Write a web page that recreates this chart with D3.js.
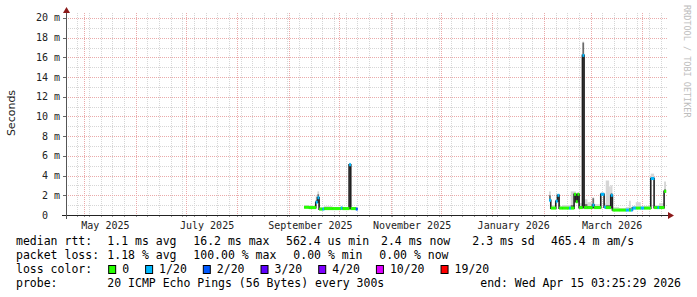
<!DOCTYPE html>
<html>
<head>
<meta charset="utf-8">
<script src="https://cdn.jsdelivr.net/npm/d3@7/dist/d3.min.js"></script>
<style>
  html, body { margin: 0; padding: 0; background: #fff; }
  svg { display: block; }
  text { font-family: "DejaVu Sans Mono", monospace; }
</style>
</head>
<body>
<div id="chart"></div>
<script>
// ---- data ----
const startTime = new Date(2025, 3, 20, 3, 25, 29);
const endTime = new Date(2026, 3, 15, 3, 25, 29);
const yMaxMs = 20.3;
const yTicksMs = [0, 2, 4, 6, 8, 10, 12, 14, 16, 18, 20];
const xLabelMonths = ['2025-05-01', '2025-07-01', '2025-09-01', '2025-11-01', '2026-01-01', '2026-03-01'];

// one entry per consolidated step (a null median starts a gap)
const sampleDates = [
  '2025-09-10', '2025-09-13', '2025-09-17', '2025-09-18', '2025-09-19', '2025-09-21', '2025-09-22',
  '2025-09-27', '2025-10-02', '2025-10-03', '2025-10-07', '2025-10-08', '2025-10-11', '2025-10-12',
  '2026-02-04', '2026-02-05', '2026-02-08', '2026-02-09', '2026-02-10', '2026-02-12', '2026-02-16',
  '2026-02-17', '2026-02-19', '2026-02-20', '2026-02-21', '2026-02-22', '2026-02-24', '2026-02-25',
  '2026-02-27', '2026-03-02', '2026-03-03', '2026-03-07', '2026-03-09', '2026-03-10', '2026-03-12',
  '2026-03-13', '2026-03-14', '2026-03-18', '2026-03-22', '2026-03-24', '2026-03-25', '2026-03-26',
  '2026-03-28', '2026-03-31', '2026-04-02', '2026-04-06', '2026-04-08', '2026-04-10', '2026-04-11',
  '2026-04-14'
];
const medianMs = [
  0.78, 0.75, 1.3, 1.75, 0.6, 0.6, 0.65,
  0.65, 0.7, 0.65, 5.1, 0.65, 0.6, null,
  1.5, 0.7, 1.4, 2.0, 0.7, 0.7, 0.7,
  0.7, 2.1, 1.35, 2.1, 0.75, 16.2, 0.75,
  0.75, 1.0, 0.75, 2.1, 0.8, 0.75, 0.75,
  2.0, 0.5, 0.5, 0.5, 0.5, 0.5, 0.7,
  0.7, 0.7, 0.7, 3.7, 0.75, 0.75, 0.75,
  2.4
];
const lossIndex = [
  0, 0, 1, 1, 0, 1, 0,
  0, 1, 0, 1, 0, 2, 0,
  1, 0, 1, 1, 0, 0, 1,
  0, 0, 0, 0, 0, 1, 0,
  0, 1, 0, 1, 1, 0, 0,
  1, 0, 0, 1, 0, 1, 1,
  0, 1, 0, 1, 0, 1, 0,
  0
];
const smokeDarkMs = [
  0.8, 0.8, 1.5, 2.1, 0.65, 0.7, 0.7,
  0.7, 0.8, 0.7, 5.2, 0.7, 0.7, null,
  2.0, 0.8, 1.5, 2.05, 0.8, 0.8, 0.8,
  1.0, 2.2, 1.5, 2.2, 0.9, 17.5, 1.1,
  0.9, 1.7, 0.9, 2.2, 0.9, 1.0, 1.0,
  2.2, 0.6, 0.6, 0.6, 0.7, 0.6, 0.8,
  0.8, 0.8, 0.8, 3.8, 0.85, 0.85, 0.9,
  2.6
];
const smokeTopMs = [
  1.0, 0.95, 2.0, 2.4, 0.8, 0.8, 0.9,
  0.8, 0.9, 0.8, 5.3, 0.8, 0.8, null,
  2.4, 1.0, 1.6, 2.1, 0.9, 1.0, 1.0,
  2.4, 2.4, 2.1, 2.3, 1.2, 17.6, 1.6,
  1.3, 1.8, 1.1, 2.3, 1.2, 3.5, 2.9,
  3.0, 0.8, 0.7, 0.8, 1.45, 0.8, 0.9,
  1.3, 0.9, 0.9, 4.2, 1.0, 1.0, 1.2,
  3.4
];

const lossColors = ['#26ff00', '#00b8ff', '#0059ff', '#5e00ff', '#7e00ff', '#dd00ff', '#ff0000'];
const lossLabels = ['0', '1/20', '2/20', '3/20', '4/20', '10/20', '19/20'];

const rttStats = ['1.1 ms avg', '16.2 ms max', '562.4 us min', '2.4 ms now', '2.3 ms sd', '465.4 m am/s'];
const lossStats = ['1.18 % avg', '100.00 % max', '0.00 % min', '0.00 % now'];
const probeText = '20 ICMP Echo Pings (56 Bytes) every 300s';
const endText = 'end: Wed Apr 15 03:25:29 2026';

// ---- layout ----
const width = 697;
const height = 297;
const plotLeft = 66, plotRight = 666, plotTop = 15, plotBottom = 215;
const rttCols = [107.3, 193.3, 286, 381, 472.3, 551];
const lossCols = [107.3, 193.3, 293.3, 379.3];

const parse = d3.timeParse('%Y-%m-%d');
const svg = d3.select('#chart').append('svg')
  .attr('width', width)
  .attr('height', height);

svg.append('rect').attr('width', width).attr('height', height).attr('fill', '#fff');

const xScale = d3.scaleTime().domain([startTime, endTime]).range([plotLeft, plotRight]);
const yScale = d3.scaleLinear().domain([0, yMaxMs]).range([plotBottom, plotTop]);

// ---- grid ----
const grid = svg.append('g').attr('class', 'grid');
const majorX = d3.timeMonth.range(startTime, endTime);
const minorX = d3.timeSunday.range(startTime, endTime);
const minorY = d3.range(1, 21, 1);
const minorColor = '#d6d6d6';
const majorColor = '#eaaaaa';

grid.selectAll('line.minor-x')
  .data(minorX)
  .join('line')
  .attr('class', 'minor-x')
  .attr('x1', d => Math.round(xScale(d)) + 0.5)
  .attr('x2', d => Math.round(xScale(d)) + 0.5)
  .attr('y1', plotTop - 2)
  .attr('y2', plotBottom)
  .attr('stroke', minorColor)
  .attr('stroke-dasharray', '1,1');

grid.selectAll('line.minor-y')
  .data(minorY.filter(v => v % 2 !== 0))
  .join('line')
  .attr('class', 'minor-y')
  .attr('x1', plotLeft)
  .attr('x2', plotRight + 2)
  .attr('y1', d => Math.round(yScale(d)) + 0.5)
  .attr('y2', d => Math.round(yScale(d)) + 0.5)
  .attr('stroke', minorColor)
  .attr('stroke-dasharray', '1,1');

grid.selectAll('line.major-x')
  .data(majorX)
  .join('line')
  .attr('class', 'major-x')
  .attr('x1', d => Math.round(xScale(d)) + 0.5)
  .attr('x2', d => Math.round(xScale(d)) + 0.5)
  .attr('y1', plotTop - 2)
  .attr('y2', plotBottom)
  .attr('stroke', majorColor)
  .attr('stroke-dasharray', '1,1');

grid.selectAll('line.major-y')
  .data(yTicksMs.filter(v => v > 0))
  .join('line')
  .attr('class', 'major-y')
  .attr('x1', plotLeft)
  .attr('x2', plotRight + 2)
  .attr('y1', d => Math.round(yScale(d)) + 0.5)
  .attr('y2', d => Math.round(yScale(d)) + 0.5)
  .attr('stroke', majorColor)
  .attr('stroke-dasharray', '1,1');

// ---- steps ----
const steps = sampleDates.map((s, i) => ({
  t0: parse(s),
  t1: i < sampleDates.length - 1 ? parse(sampleDates[i + 1]) : endTime,
  v: medianMs[i],
  loss: lossIndex[i],
  dark: smokeDarkMs[i],
  top: smokeTopMs[i]
})).filter(d => d.v != null);

// smoke
svg.append('g').selectAll('rect')
  .data(steps)
  .join('rect')
  .attr('x', d => xScale(d.t0))
  .attr('width', d => xScale(d.t1) - xScale(d.t0))
  .attr('y', d => yScale(d.top))
  .attr('height', d => yScale(d.v) - yScale(d.top))
  .attr('fill', '#d6d6d6');

svg.append('g').selectAll('rect')
  .data(steps)
  .join('rect')
  .attr('x', d => xScale(d.t0))
  .attr('width', d => xScale(d.t1) - xScale(d.t0))
  .attr('y', d => yScale(d.dark))
  .attr('height', d => yScale(d.v) - yScale(d.dark))
  .attr('fill', '#6a6a6a');

// median line
const linePts = [];
sampleDates.forEach((s, i) => {
  const v = medianMs[i];
  const t0 = parse(s);
  if (v == null) {
    linePts.push({ t: t0, v: null });
    return;
  }
  linePts.push({ t: t0, v: v });
  const next = i < sampleDates.length - 1 ? medianMs[i + 1] : null;
  if (next == null) {
    const t1 = i < sampleDates.length - 1 ? parse(sampleDates[i + 1]) : endTime;
    linePts.push({ t: t1, v: v });
  }
});

const medianLine = d3.line()
  .defined(d => d.v != null)
  .x(d => xScale(d.t))
  .y(d => yScale(d.v))
  .curve(d3.curveStepAfter);

svg.append('path')
  .datum(linePts)
  .attr('fill', 'none')
  .attr('stroke', '#202020')
  .attr('stroke-width', 1.6)
  .attr('d', medianLine);

// loss coloured band
svg.append('g').selectAll('rect')
  .data(steps)
  .join('rect')
  .attr('x', d => xScale(d.t0))
  .attr('width', d => xScale(d.t1) - xScale(d.t0) + 0.3)
  .attr('y', d => yScale(d.v) - 1.5)
  .attr('height', 3)
  .attr('fill', d => lossColors[d.loss]);

// ---- axes ----
const axis = svg.append('g').attr('class', 'axis');

axis.selectAll('line.tick-x')
  .data(minorX.concat(majorX))
  .join('line')
  .attr('x1', d => Math.round(xScale(d)) + 0.5)
  .attr('x2', d => Math.round(xScale(d)) + 0.5)
  .attr('y1', plotBottom)
  .attr('y2', plotBottom + 2)
  .attr('stroke', '#999');

axis.selectAll('line.tick-y')
  .data(yTicksMs)
  .join('line')
  .attr('x1', plotLeft - 3)
  .attr('x2', plotLeft)
  .attr('y1', d => Math.round(yScale(d)) + 0.5)
  .attr('y2', d => Math.round(yScale(d)) + 0.5)
  .attr('stroke', '#666');

axis.append('line')
  .attr('x1', plotLeft - 4).attr('x2', plotRight + 4)
  .attr('y1', plotBottom + 0.5).attr('y2', plotBottom + 0.5)
  .attr('stroke', '#222');

axis.append('line')
  .attr('x1', plotLeft + 0.5).attr('x2', plotLeft + 0.5)
  .attr('y1', plotBottom + 4).attr('y2', plotTop - 3)
  .attr('stroke', '#555');

axis.append('path')
  .attr('d', `M${plotLeft - 3},${plotTop - 2}L${plotLeft + 0.5},${plotTop - 8}L${plotLeft + 4},${plotTop - 2}Z`)
  .attr('fill', '#8b1a1a');

axis.append('path')
  .attr('d', `M${plotRight + 2},${plotBottom - 3}L${plotRight + 8},${plotBottom + 0.5}L${plotRight + 2},${plotBottom + 4}Z`)
  .attr('fill', '#8b1a1a');

// y tick labels
axis.selectAll('text.ylab')
  .data(yTicksMs)
  .join('text')
  .attr('class', 'ylab')
  .attr('x', plotLeft - 6)
  .attr('y', d => yScale(d))
  .attr('dy', '0.35em')
  .attr('text-anchor', 'end')
  .attr('font-size', 10)
  .attr('fill', '#222')
  .style('white-space', 'pre')
  .text(d => d === 0 ? '0  ' : d + ' m');

// x labels
const monthFmt = d3.timeFormat('%B %Y');
axis.selectAll('text.xlab')
  .data(xLabelMonths.map(parse))
  .join('text')
  .attr('class', 'xlab')
  .attr('x', d => xScale(d3.timeHour.offset(d, 307)))
  .attr('y', 228.5)
  .attr('text-anchor', 'middle')
  .attr('font-size', 10)
  .attr('fill', '#222')
  .text(d => monthFmt(d));

// y title
svg.append('text')
  .attr('transform', 'translate(15,113) rotate(-90)')
  .attr('text-anchor', 'middle')
  .style('font-family', '"DejaVu Sans", sans-serif')
  .attr('font-size', 11)
  .attr('fill', '#222')
  .text('Seconds');

// watermark
svg.append('text')
  .attr('transform', 'translate(684,5) rotate(90)')
  .attr('font-size', 8.5)
  .attr('fill', '#bdbdbd')
  .text('RRDTOOL / TOBI OETIKER');

// ---- legend ----
const legend = svg.append('g').attr('font-size', 11.5).attr('fill', '#000');
const rows = [245, 259, 273, 287];

legend.append('text').attr('x', 16).attr('y', rows[0]).text('median rtt:');
legend.selectAll('text.rtt')
  .data(rttStats)
  .join('text')
  .attr('class', 'rtt')
  .attr('x', (d, i) => rttCols[i])
  .attr('y', rows[0])
  .text(d => d);

legend.append('text').attr('x', 16).attr('y', rows[1]).text('packet loss:');
legend.selectAll('text.loss')
  .data(lossStats)
  .join('text')
  .attr('class', 'loss')
  .attr('x', (d, i) => lossCols[i])
  .attr('y', rows[1])
  .text(d => d);

const lc = legend.append('text').attr('x', 16).attr('y', rows[2]).text('loss color:');
let cursor = 16 + lc.node().getComputedTextLength();
lossLabels.forEach((lab, i) => {
  const sx = cursor + 16;
  legend.append('rect')
    .attr('x', sx + 0.5)
    .attr('y', rows[2] - 8 + 0.5)
    .attr('width', 7)
    .attr('height', 8)
    .attr('fill', lossColors[i])
    .attr('stroke', '#000');
  const t = legend.append('text')
    .attr('x', sx + 14)
    .attr('y', rows[2])
    .text(lab);
  cursor = sx + 14 + t.node().getComputedTextLength();
});

legend.append('text').attr('x', 16).attr('y', rows[3]).text('probe:');
legend.append('text').attr('x', 107.3).attr('y', rows[3]).text(probeText);
legend.append('text').attr('x', 681).attr('y', rows[3]).attr('text-anchor', 'end').text(endText);
</script>
</body>
</html>
